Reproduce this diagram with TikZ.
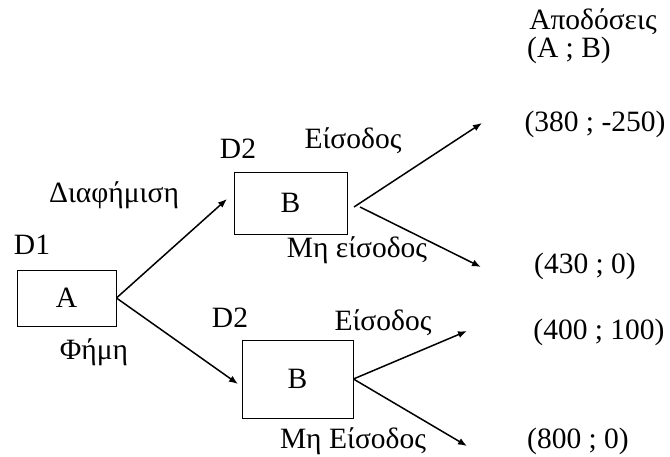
\documentclass[tikz,border=0pt]{standalone}
\usepackage{fontspec}
\setmainfont{Liberation Serif}
\usetikzlibrary{arrows.meta}
\begin{document}
\begin{tikzpicture}[x=1pt,y=-1pt,
  lbl/.style={font=\fontsize{29.5}{34}\selectfont, inner sep=0pt},
  choice/.style={draw, line width=0.9pt, inner sep=0pt, font=\fontsize{29.5}{34}\selectfont},
  branch/.style={line width=1.5pt, -{Latex[length=9pt,width=7pt]}}]
\useasboundingbox (0,0) rectangle (670,457);

% decision boxes
\node[choice, minimum width=99pt, minimum height=56pt] (A) at (66.5,298) {A};
\node[choice, minimum width=113pt, minimum height=62pt] (B1) at (290.5,203) {B};
\node[choice, minimum width=111pt, minimum height=78pt] (B2) at (297.5,379) {B};

% arrow ends and detached starts
\coordinate (t1) at (227,199);
\coordinate (t2) at (238,384);
\coordinate (s1a) at (354,207);
\coordinate (s1b) at (360,207);
\coordinate (e1a) at (482,123);
\coordinate (e1b) at (481,267);
\coordinate (e2a) at (467,331);
\coordinate (e2b) at (467,446);

% branches
\draw[branch] (A.east) -- (t1);
\draw[branch] (A.east) -- (t2);
\draw[branch] (s1a) -- (e1a);
\draw[branch] (s1b) -- (e1b);
\draw[branch] (B2.east) -- (e2a);
\draw[branch] (B2.east) -- (e2b);

% labels
\node[lbl] (d1) at (32,245) {D1};
\node[lbl] (adv) at (114,195) {Διαφήμιση};
\node[lbl] (rum) at (94,352) {Φήμη};
\node[lbl] (d2a) at (238,149) {D2};
\node[lbl] (d2b) at (230,318) {D2};
\node[lbl] (in1) at (353,141) {Είσοδος};
\node[lbl] (out1) at (357,250) {Μη είσοδος};
\node[lbl] (in2) at (383,323) {Είσοδος};
\node[lbl] (out2) at (353,441) {Μη Είσοδος};

% payoffs
\node[lbl] (pay) at (593,22) {Αποδόσεις};
\node[lbl, anchor=west] (ab) at (527,50) {(A ; B)};
\node[lbl] (p1) at (595,124) {(380 ; -250)};
\node[lbl] (p2) at (585,266) {(430 ; 0)};
\node[lbl] (p3) at (599,332) {(400 ; 100)};
\node[lbl] (p4) at (578,441) {(800 ; 0)};
\end{tikzpicture}
\end{document}
